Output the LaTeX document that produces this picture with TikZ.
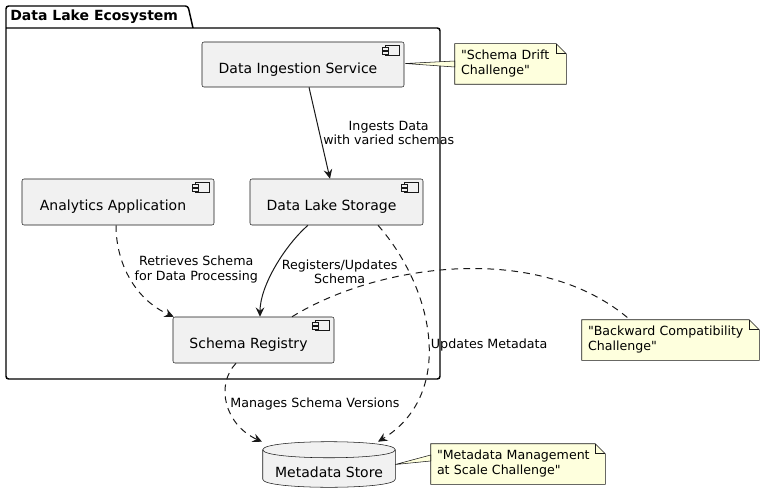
\documentclass[tikz,border=0pt]{standalone}
\usepackage{fontspec}
\setmainfont{DejaVu Sans}
\usetikzlibrary{
    arrows.meta,
    calc,
    backgrounds
}

\definecolor{boxfill}{HTML}{F1F1F1}
\definecolor{linecol}{HTML}{181818}
\definecolor{notefill}{HTML}{FEFFDD}

\newcommand\compfont{\fontsize{10.5}{12.5}\selectfont}
\newcommand\lblfont{\fontsize{9.5}{10.9}\selectfont}
\newcommand\notefont{\fontsize{9.45}{11.25}\selectfont}

% little component sign in the top right corner of a box
\newcommand\compicon[1]{%
    \draw[iconline] ($(#1.north east)+(-19,4)$) rectangle ($(#1.north east)+(-5,14)$);
    \draw[iconline] ($(#1.north east)+(-22,6)$) rectangle ($(#1.north east)+(-16,8.5)$);
    \draw[iconline] ($(#1.north east)+(-22,10)$) rectangle ($(#1.north east)+(-16,12.5)$);
}
% note sheet with a folded corner, behind the note text
\newcommand\notebg[1]{%
    \begin{pgfonlayer}{background}
        \draw[noteline]
        (#1.north west) -- ($(#1.north east)+(-10,0)$) -- ($(#1.north east)+(0,10)$)
        -- (#1.south east) -- (#1.south west) -- cycle;
        \draw[noteline, fill=none]
        ($(#1.north east)+(-10,0)$) -- ($(#1.north east)+(-10,10)$) -- ($(#1.north east)+(0,10)$);
    \end{pgfonlayer}
}
% database drum behind the store text
\newcommand\drumbg[1]{%
    \begin{pgfonlayer}{background}
        \draw[iconline]
        ($(#1.north west)+(0,8)$) -- ($(#1.south west)+(0,-8)$)
        .. controls +(0,10.7) and +(0,10.7) .. ($(#1.south east)+(0,-8)$)
        -- ($(#1.north east)+(0,8)$)
        .. controls +(0,-10.7) and +(0,-10.7) .. ($(#1.north west)+(0,8)$) -- cycle;
        \draw[iconline, fill=none]
        ($(#1.north west)+(0,8)$) .. controls +(0,10.7) and +(0,10.7) .. ($(#1.north east)+(0,8)$);
    \end{pgfonlayer}
}

\begin{document}
\begin{tikzpicture}[x=0.75pt, y=-0.75pt,
    comp/.style={draw=linecol, fill=boxfill, line width=0.4pt, rounded corners=1.5pt,
        minimum height=34.5pt, font=\compfont, text height=15.5pt, text depth=2.5pt,
        execute at end node={\hspace*{7.5pt}}},
    iconline/.style={draw=linecol, fill=boxfill, line width=0.4pt},
    noteline/.style={draw=linecol, fill=notefill, line width=0.4pt},
    notebox/.style={align=left, inner xsep=4.5pt, inner ysep=0pt, minimum height=30pt, font=\notefont},
    storebox/.style={minimum width=99pt, minimum height=33.75pt, font=\compfont,
        text height=22pt, text depth=2.5pt},
    pkg/.style={draw=black, line width=1.1pt, rounded corners=2pt},
    flow/.style={draw=linecol, line width=0.75pt, -{Stealth[length=7pt, width=6.5pt, inset=2.5pt]}},
    weak/.style={flow, dash pattern=on 5pt off 4pt},
    lbl/.style={font=\lblfont, align=center, inner sep=1pt}
]
    \useasboundingbox (0,0) rectangle (764,503);

    % package
    \draw[pkg]
    (193,28) -- (188,6) -- (6,6) -- (6,379) -- (440,379) -- (440,28) -- (6,28);
    \node[anchor=west, font=\compfont\bfseries, inner sep=0pt] (ecotitle) at (10,17) {Data Lake Ecosystem};

    % components
    \node[comp, minimum width=151.5pt, minimum height=33.75pt] (dis) at (303,64.5) {Data Ingestion Service};
    \node[comp, minimum width=144pt] (aa) at (118,202) {Analytics Application};
    \node[comp, minimum width=129.75pt] (dls) at (336.5,202) {Data Lake Storage};
    \node[comp, minimum width=120.75pt] (sr) at (253.5,340) {Schema Registry};
    \compicon{dis}
    \compicon{aa}
    \compicon{dls}
    \compicon{sr}

    \node[storebox] (ms) at (329,464.5) {Metadata Store};
    \drumbg{ms}

    % notes
    \node[notebox, text width=74.25pt] (drift) at (510.5,64) {\textquotedbl Schema Drift\\Challenge\textquotedbl};
    \node[notebox, text width=123.75pt] (backward) at (670.5,340) {\textquotedbl Backward Compatibility\\Challenge\textquotedbl};
    \node[notebox, text width=121.5pt] (scale) at (518,464) {\textquotedbl Metadata Management\\at Scale Challenge\textquotedbl};
    \notebg{drift}
    \notebg{backward}
    \notebg{scale}

    \fill[noteline] ($(dis.east)+(1,-1)$) -- ($(drift.west)+(0,-3)$) -- ($(drift.west)+(0,3)$) -- cycle;
    \fill[noteline] (ms.east) -- ($(scale.west)+(0,-9)$) -- ($(scale.west)+(0,-3)$) -- cycle;
    \draw[draw=linecol, line width=0.75pt, dash pattern=on 5pt off 4pt]
    ($(sr.north)+(38.5,0)$) .. controls +(88,-54) and +(-90,-78) .. ($(backward.north)+(-40.5,0)$);

    % connectors
    \draw[flow] ($(dis.south)+(6,0)$)
    -- node[lbl, anchor=west, xshift=1.5pt] (lblingest) {Ingests Data\\with varied schemas}
    ($(dls.north)+(-6.5,0)$);
    \draw[weak] ($(aa.south)+(-2,0)$)
    .. controls +(0,39) and +(-38,-17) .. node[lbl, pos=0.4, anchor=west, xshift=5.5pt] (lblretrieve) {Retrieves Schema\\for Data Processing}
    ($(sr.north west)+(1,0)$);
    \draw[flow] ($(dls.south)+(-28.5,0)$)
    .. controls +(-23,20) and +(0,-31) .. node[lbl, pos=0.55, anchor=west, xshift=5.5pt] (lblregister) {Registers/Updates\\Schema}
    ($(sr.north)+(6.5,0)$);
    \draw[weak] ($(dls.south)+(41.5,0)$)
    .. controls +(57,65) and +(77,-47) .. node[lbl, pos=0.52, anchor=west, xshift=0.5pt] (lblupdate) {Updates Metadata}
    ($(ms.north)+(49,0)$);
    \draw[weak] ($(sr.south)+(-17.5,0)$)
    .. controls +(-21,22) and +(-37,-17) .. node[lbl, pos=0.5, anchor=west, xshift=1pt] (lblmanage) {Manages Schema Versions}
    ($(ms.north)+(-67,0)$);
\end{tikzpicture}
\end{document}
